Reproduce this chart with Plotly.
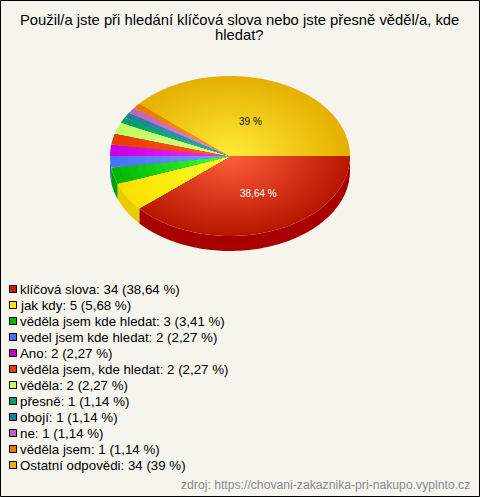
import math
import plotly.graph_objects as go

title_lines = ["Použil/a jste při hledání klíčová slova nebo jste přesně věděl/a, kde", "hledat?"]
categories = ["klíčová slova", "jak kdy", "věděla jsem kde hledat", "vedel jsem kde hledat", "Ano",
              "věděla jsem, kde hledat", "věděla", "přesně", "obojí", "ne", "věděla jsem", "Ostatní odpovědi"]
values = [34, 5, 3, 2, 2, 2, 2, 1, 1, 1, 1, 34]
percents = ["38,64", "5,68", "3,41", "2,27", "2,27", "2,27", "2,27", "1,14", "1,14", "1,14", "1,14", "39"]
source = "zdroj: https://chovani-zakaznika-pri-nakupo.vyplnto.cz"

legend_colors = ["#c41e00", "#ffe600", "#00b400", "#4a70ff", "#c000c8", "#e63c00", "#ccff66", "#00a060", "#1f7f9f", "#c060c0", "#e87800", "#e6b000"]
center_colors = ["#ff5c3c", "#ffff30", "#40ff40", "#7a9cff", "#f030ff", "#ff6020", "#dcff90", "#30c080", "#40a0c0", "#e090e0", "#ff9a30", "#ffea38"]
edge_colors = ["#b81800", "#ffe000", "#00b800", "#4a70ff", "#c800e0", "#e63c00", "#c0ff60", "#00a060", "#1f7f9f", "#c060c0", "#e87800", "#e6b000"]
side_colors = ["#a80000", "#e6cc00", "#00a000", "#3a5ad0", "#a000a0", "#b83000", "#a0cc50", "#008050", "#186080", "#a050a0", "#b86000", "#b88c00"]

CX, CY, RX, RY, DEPTH = 230, 156, 120, 80, 15
RINGS = 40


def rgb(h):
    return [int(h[i:i + 2], 16) for i in (1, 3, 5)]


def mix(a, b, t):
    a, b = rgb(a), rgb(b)
    return "rgb(%d,%d,%d)" % tuple(round(a[i] + (b[i] - a[i]) * t) for i in range(3))


def arc(a0, a1, scale=1.0, dy=0):
    n = max(2, int(abs(a1 - a0) / 1.5) + 2)
    xs, ys = [], []
    for i in range(n):
        a = math.radians(a0 + (a1 - a0) * i / (n - 1))
        xs.append(CX + RX * scale * math.cos(a))
        ys.append(CY + dy + RY * scale * math.sin(a))
    return xs, ys


total = sum(values)
fig = go.Figure()

# side walls (front half of the pie only)
angle = 0.0
for v, col in zip(values, side_colors):
    a1 = angle + 360.0 * v / total
    if angle < 180:
        end = min(a1, 180)
        x0, y0 = arc(angle, end)
        x1, y1 = arc(end, angle, dy=DEPTH)
        fig.add_trace(go.Scatter(x=x0 + x1 + x0[:1], y=y0 + y1 + y0[:1], mode="none", fill="toself",
                                 fillcolor=col, hoverinfo="skip"))
    angle = a1

# top faces: each wedge as nested shrinking wedges, giving a radial gradient
angle = 0.0
for v, cc, ec in zip(values, center_colors, edge_colors):
    a1 = angle + 360.0 * v / total
    rings = RINGS if v > 4 else 14
    for k in range(rings, 0, -1):
        s = k / rings
        col = mix(cc, ec, (k - 1) / (rings - 1))
        xs, ys = arc(angle, a1, scale=s)
        fig.add_trace(go.Scatter(x=[CX] + xs + [CX], y=[CY] + ys + [CY], mode="none", fill="toself",
                                 fillcolor=col, hoverinfo="skip"))
    angle = a1

FONT = "Liberation Sans, Arial, sans-serif"
ann = []
for i, line in enumerate(title_lines):
    ann.append(dict(x=239.5, y=20 + 15 * i, text=line, font=dict(size=14.8, color="#000000", family=FONT)))
ann.append(dict(x=258, y=193, text=percents[0] + " %", font=dict(size=10, color="#ffffff", family=FONT)))
ann.append(dict(x=250.5, y=121, text=percents[-1] + " %", font=dict(size=10, color="#111111", family=FONT)))
shapes = []
for i, (c, v, p, col) in enumerate(zip(categories, values, percents, legend_colors)):
    y = 289 + 16 * i
    shapes.append(dict(type="rect", x0=9.5, x1=16.5, y0=y - 3.5, y1=y + 3.5, xref="x", yref="y",
                       fillcolor=col, line=dict(color="#000000", width=1)))
    ann.append(dict(x=20, y=y, text=f"{c}: {v} ({p} %)", xanchor="left",
                    font=dict(size=13.3, color="#000000", family=FONT)))
ann.append(dict(x=470, y=484.5, text=source, xanchor="right", font=dict(size=12.2, color="#8a8a8a", family=FONT)))
for a in ann:
    a.update(xref="x", yref="y", showarrow=False, yanchor="middle")
    a.setdefault("xanchor", "center")
    a.update(borderpad=0, borderwidth=0)
shapes.append(dict(type="rect", x0=0.5, x1=479.5, y0=0.5, y1=496.5, xref="x", yref="y",
                   line=dict(color="#000000", width=1)))

fig.update_layout(width=480, height=497, margin=dict(l=0, r=0, t=0, b=0), showlegend=False,
                  paper_bgcolor="#f5f5ee", plot_bgcolor="#f5f5ee", annotations=ann, shapes=shapes,
                  xaxis=dict(range=[0, 480], visible=False, fixedrange=True),
                  yaxis=dict(range=[497, 0], visible=False, fixedrange=True))
fig.write_html("out.html", config=dict(displayModeBar=False),
               post_script="document.body.style.margin='0';")
